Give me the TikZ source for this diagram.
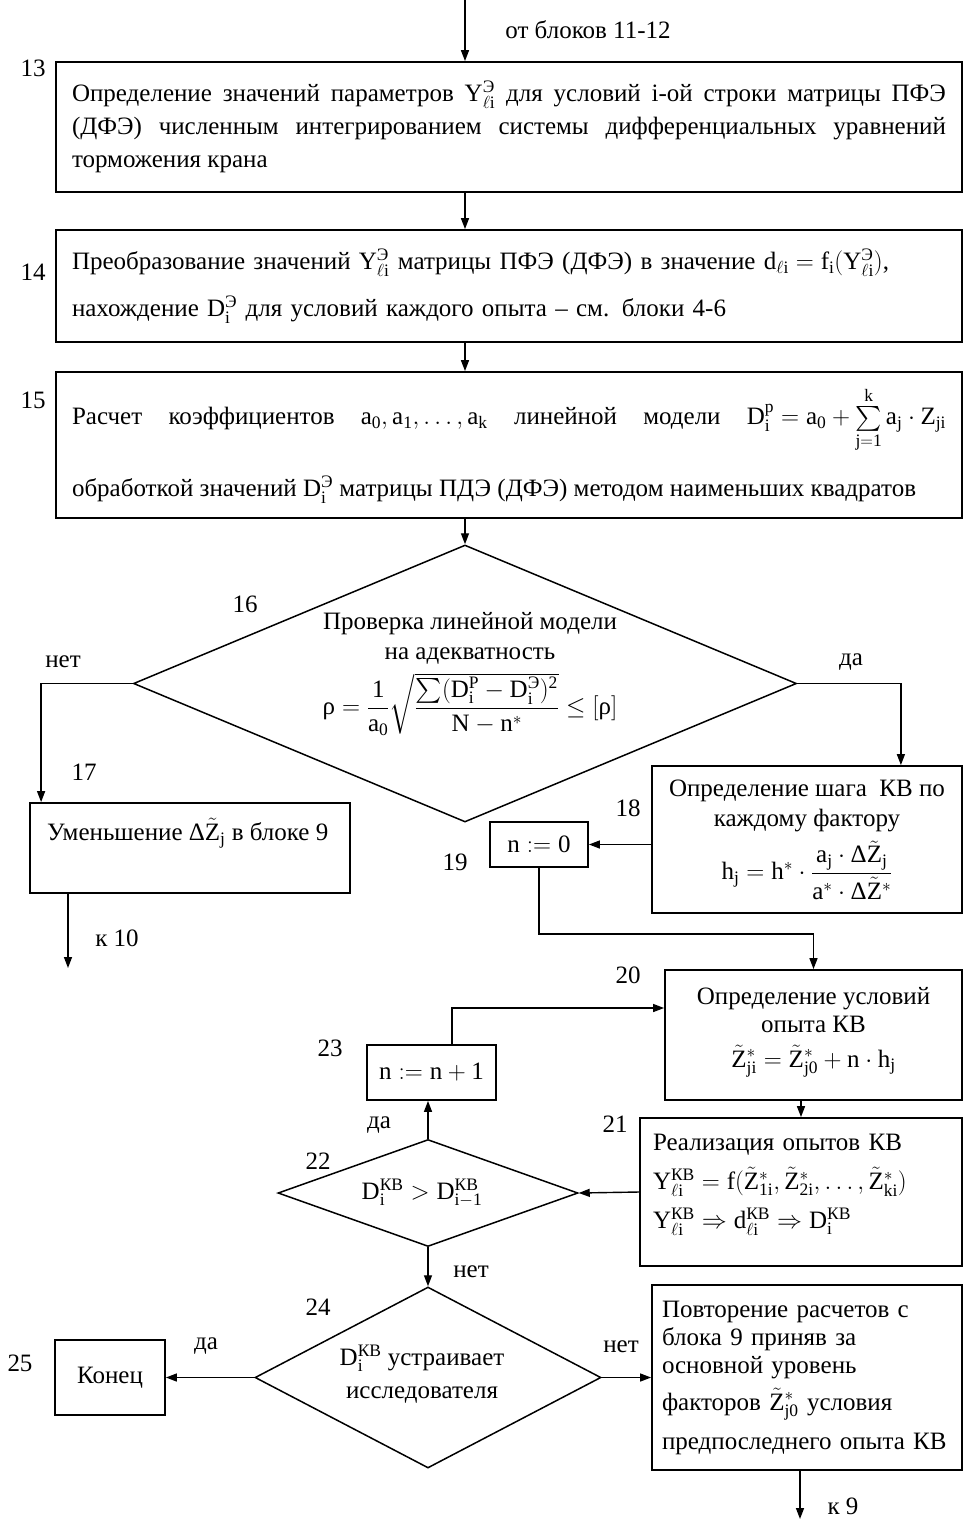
\documentclass[tikz,border=0pt]{standalone}
\usepackage{fix-cm}
\usepackage{amsmath}
\usepackage{fontspec}
\setmainfont{Liberation Serif}
\usetikzlibrary{calc,arrows.meta,positioning,shapes.geometric}

\newcommand{\Ee}{\text{Э}}
\newcommand{\KB}{\text{КВ}}
\newcommand{\Yli}[1]{\mathrm{Y}_{\ell\mathrm{i}}^{#1}}
\newcommand{\Di}[1]{\mathrm{D}_{\mathrm{i}}^{#1}}
\newcommand{\tZ}{\tilde{\mathrm{Z}}}

\tikzset{
  blk/.style={draw, line width=1.8pt, inner sep=0pt},
  dia/.style={draw, diamond, line width=1.5pt, inner sep=0pt},
  arr/.style={line width=1.4pt, -{Triangle[length=11pt,width=8pt]}},
  txt/.style={inner sep=0pt},
}

\begin{document}
\begin{tikzpicture}[x=1pt,y=-1pt,font=\fontsize{25}{33}\selectfont]
\useasboundingbox (0,0) rectangle (964,1521);

% blocks 13-15
\node[blk, minimum width=906pt, minimum height=130pt, text width=874pt, align=justify] (b13) at (509,127)
  {Определение значений параметров \mbox{$\Yli{\Ee}$} для условий i-ой строки матрицы ПФЭ\linebreak
   (ДФЭ) численным интегрированием системы дифференциальных уравнений\linebreak
   торможения крана};
\node[blk, minimum width=906pt, minimum height=112pt, text width=874pt, align=left] (b14) at (509,286)
  {Преобразование значений $\Yli{\Ee}$ матрицы ПФЭ (ДФЭ) в значение $\mathrm{d}_{\ell\mathrm{i}}=\mathrm{f}_{\mathrm{i}}(\Yli{\Ee})$,\\[14pt]
   нахождение $\Di{\Ee}$ для условий каждого опыта – см. блоки 4-6};
\node[blk, minimum width=906pt, minimum height=146pt, text width=874pt, align=justify] (b15) at (509,445)
  {Расчет коэффициентов \mbox{$\mathrm{a}_{\mathrm{0}},\mathrm{a}_{\mathrm{1}},\ldots,\mathrm{a}_{\mathrm{k}}$} линейной модели
   \mbox{$\Di{\mathrm{p}}=\mathrm{a}_{\mathrm{0}}+\sum\limits_{\mathrm{j=1}}^{\mathrm{k}}\mathrm{a}_{\mathrm{j}}\cdot\mathrm{Z}_{\mathrm{ji}}$}\rule[-50pt]{0pt}{0pt}\linebreak
   обработкой значений $\Di{\Ee}$ матрицы ПДЭ (ДФЭ) методом наименьших квадратов};

% decision 16
\node[dia, minimum width=663pt, minimum height=277pt] (d16) at (465,683.5) {};
\node[txt, align=center, anchor=north] (t16) at (470,612)
  {Проверка линейной модели\\[-3pt]на адекватность\\[8pt]
   $\text{ρ}=\dfrac{\mathrm{1}}{\mathrm{a}_{\mathrm{0}}}\sqrt{\dfrac{\sum(\Di{\mathrm{P}}-\Di{\Ee})^{\mathrm{2}}}{\mathrm{N}-\mathrm{n}^{*}}}\le[\text{ρ}]$};

% blocks 17-19
\node[blk, minimum width=320pt, minimum height=90pt] (b17) at (190,848) {};
\node[txt, anchor=west] (t17) at (47,833) {Уменьшение $\text{Δ}\tZ_{\mathrm{j}}$ в блоке 9};
\node[blk, minimum width=310pt, minimum height=147pt, align=center] (b18) at (807,839.5)
  {Определение шага\ \ КВ по\\[-3pt]каждому фактору\\[8pt]
   $\mathrm{h}_{\mathrm{j}}=\mathrm{h}^{*}\cdot\dfrac{\mathrm{a}_{\mathrm{j}}\cdot\text{Δ}\tZ_{\mathrm{j}}}{\mathrm{a}^{*}\cdot\text{Δ}\tZ^{*}}$};
\node[blk, minimum width=98pt, minimum height=45pt] (b19) at (539,844.5) {$\mathrm{n}:=\mathrm{0}$};

% blocks 20-23
\node[blk, minimum width=297pt, minimum height=130pt, align=center] (b20) at (813.5,1035)
  {Определение условий\\[-5pt]опыта КВ\\[2pt]
   $\tZ^{*}_{\mathrm{ji}}=\tZ^{*}_{\mathrm{j0}}+\mathrm{n}\cdot\mathrm{h}_{\mathrm{j}}$\rule[-16pt]{0pt}{0pt}};
\node[blk, minimum width=322pt, minimum height=148pt, text width=296pt, align=left] (b21) at (801,1192)
  {Реализация опытов КВ\\[6pt]
   $\Yli{\KB}=\mathrm{f}(\tZ^{*}_{\mathrm{1i}},\tZ^{*}_{\mathrm{2i}},\ldots,\tZ^{*}_{\mathrm{ki}})$\\[6pt]
   $\Yli{\KB}\Rightarrow\mathrm{d}_{\ell\mathrm{i}}^{\KB}\Rightarrow\Di{\KB}$\rule[-22pt]{0pt}{0pt}};
\node[dia, minimum width=300pt, minimum height=107pt] (d22) at (428,1193) {};
\node[txt] (t22) at (422,1193) {$\Di{\KB}>\mathrm{D}_{\mathrm{i-1}}^{\KB}$};
\node[blk, minimum width=129pt, minimum height=55pt] (b23) at (431.5,1072.5) {$\mathrm{n}:=\mathrm{n}+\mathrm{1}$};

% decision 24, end
\node[dia, minimum width=346pt, minimum height=181pt] (d24) at (428,1377.5) {};
\node[txt, align=center] (t24) at (422,1374) {$\Di{\KB}$ устраивает\\исследователя};
\node[blk, minimum width=310pt, minimum height=185pt, text width=290pt, align=left] (b26) at (807,1377.5)
  {Повторение расчетов с\\[-5pt]блока 9 приняв за\\[-5pt]основной уровень\\[4pt]
   факторов $\tZ^{*}_{\mathrm{j0}}$ условия\\[6pt]предпоследнего опыта КВ};
\node[blk, minimum width=110pt, minimum height=75pt] (b25) at (110,1377.5) {Конец};

% block numbers
\foreach \n/\x/\y in {13/33/68,14/33/272,15/33/400,16/245/604,17/84/772,18/628/808,19/455/862,
  20/628/975,21/615/1124,22/318/1161,23/330/1048,24/318/1307,25/20/1363}
  \node[txt] (n\n) at (\x,\y) {\n};

% connectors
\coordinate (src) at (465,0);
\coordinate (k10) at (68,968);
\coordinate (k9) at (800,1519);
\draw[arr] (src) -- (src |- b13.north);
\draw[arr] (b13.south -| src) -- (b14.north -| src);
\draw[arr] (b14.south -| src) -- (b15.north -| src);
\draw[arr] (b15.south -| src) -- (d16.north);
\draw[arr] (d16.west) -| ($(b17.north west)+(12,0)$);
\draw[arr] (k10 |- b17.south) -- (k10);
\draw[arr] (d16.east) -| ($(b18.north east)+(-62,0)$);
\draw[arr] (b18.west |- b19.east) -- (b19.east);
\draw[arr] (b19.south) -- ++(0,66) -| (b20.north);
\draw[arr] (b20.south -| b21.north) -- (b21.north);
\draw[arr] (b21.west) -- (d22.east);
\draw[arr] (d22.north) -- (d22.north |- b23.south);
\draw[arr] ($(b23.north)+(20.5,0)$) |- ($(b20.west)+(0,-27)$);
\draw[arr] (d22.south) -- (d24.north);
\draw[arr] (d24.west) -- (b25.east);
\draw[arr] (d24.east) -- (b26.west);
\draw[arr] (k9 |- b26.south) -- (k9);

% connector labels
\node[txt] (lsrc) at (588,30) {от блоков 11-12};
\node[txt] (l16no) at (63,662) {нет};
\node[txt] (l16yes) at (851,662) {да};
\node[txt] (l17) at (117,938) {к 10};
\node[txt] (l22yes) at (379,1125) {да};
\node[txt] (l22no) at (471,1272) {нет};
\node[txt] (l24yes) at (206,1346) {да};
\node[txt] (l24no) at (621,1347) {нет};
\node[txt] (l26) at (843,1506) {к 9};
\end{tikzpicture}
\end{document}
